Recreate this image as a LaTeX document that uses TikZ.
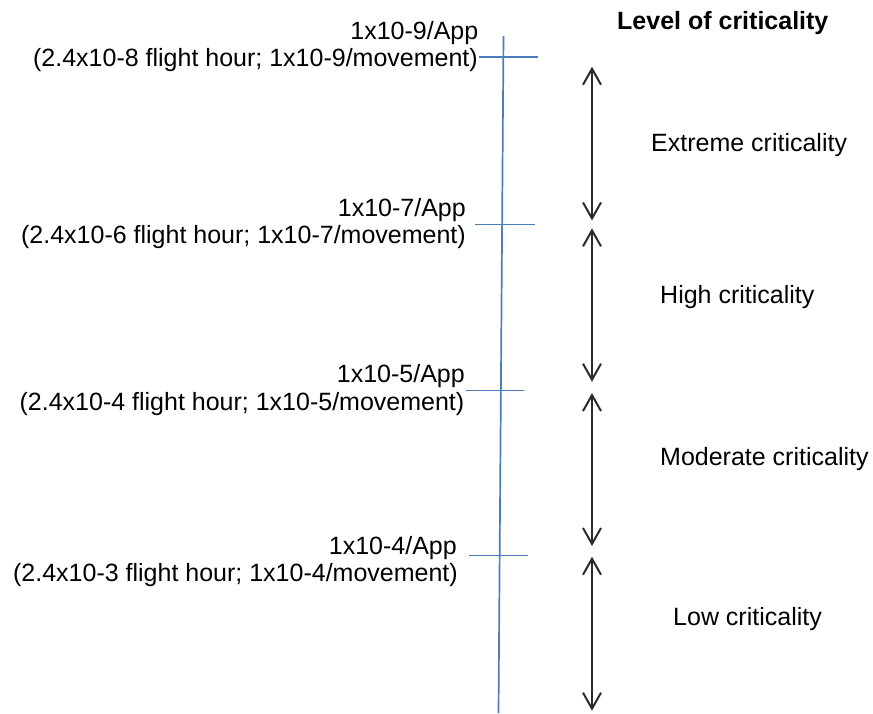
\documentclass[tikz,border=0pt]{standalone}
\usepackage{fontspec}
\setmainfont{Liberation Sans}
\usetikzlibrary{arrows.meta}
\definecolor{axisblue}{HTML}{4A7EBB}
\definecolor{arrowgray}{HTML}{2B2B2B}
\begin{document}
\begin{tikzpicture}[x=1pt,y=-1pt,
  lbl/.style={inner sep=0pt,font=\fontsize{25}{27}\selectfont},
  ratelbl/.style={lbl,anchor=base east},
  levellbl/.style={lbl,anchor=base west},
  axisline/.style={draw=axisblue,line width=1.7pt},
  spanarrow/.style={draw=arrowgray,line width=2pt,
    {Straight Barb[length=16pt,width=18pt]}-{Straight Barb[length=16pt,width=18pt]}}]
\useasboundingbox (0,0) rectangle (873,713);

% vertical scale line and its tick marks
\coordinate (axtop) at (503.5,36);
\coordinate (axbot) at (498.5,713);
\draw[axisline] (axtop) -- (axbot);
\coordinate (t1a) at (479,57);    \coordinate (t1b) at (538,57);
\coordinate (t2a) at (475,224.5); \coordinate (t2b) at (535,224.5);
\coordinate (t3a) at (466,390.5); \coordinate (t3b) at (524,390.5);
\coordinate (t4a) at (469,555.5); \coordinate (t4b) at (528,555.5);
\draw[axisline] (t1a) -- (t1b);
\draw[axisline] (t2a) -- (t2b);
\draw[axisline] (t3a) -- (t3b);
\draw[axisline] (t4a) -- (t4b);

% rate labels
\node[ratelbl] (r9a) at (478.5,39.3) {1x10-9/App};
\node[ratelbl] (r9b) at (478,66.3) {(2.4x10-8 flight hour; 1x10-9/movement)};
\node[ratelbl] (r7a) at (466,216.7) {1x10-7/App};
\node[ratelbl] (r7b) at (466,243.5) {(2.4x10-6 flight hour; 1x10-7/movement)};
\node[ratelbl] (r5a) at (465,382.7) {1x10-5/App};
\node[ratelbl] (r5b) at (464.5,410) {(2.4x10-4 flight hour; 1x10-5/movement)};
\node[ratelbl] (r4a) at (457,554.3) {1x10-4/App};
\node[ratelbl] (r4b) at (458,581.5) {(2.4x10-3 flight hour; 1x10-4/movement)};

% criticality ranges
\coordinate (a1t) at (592,66.7);  \coordinate (a1b) at (592,220.5);
\coordinate (a2t) at (592,228.3); \coordinate (a2b) at (592,381.7);
\coordinate (a3t) at (592,393);   \coordinate (a3b) at (592,546);
\coordinate (a4t) at (592,556.7); \coordinate (a4b) at (592,710.7);
\draw[spanarrow] (a1t) -- (a1b);
\draw[spanarrow] (a2t) -- (a2b);
\draw[spanarrow] (a3t) -- (a3b);
\draw[spanarrow] (a4t) -- (a4b);

% level names
\node[levellbl,font=\fontsize{25}{27}\selectfont\bfseries] (title) at (617,29.3) {Level of criticality};
\node[levellbl] (extreme) at (651,151.7) {Extreme criticality};
\node[levellbl] (high) at (660,303.3) {High criticality};
\node[levellbl] (moderate) at (660,465) {Moderate criticality};
\node[levellbl] (low) at (673,625) {Low criticality};
\end{tikzpicture}
\end{document}
